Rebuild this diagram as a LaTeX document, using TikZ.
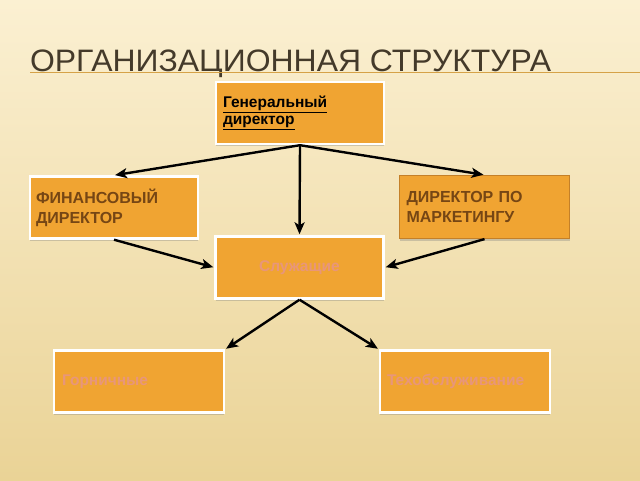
\documentclass[tikz,border=0pt]{standalone}
\usepackage{fontspec}
\setmainfont{Liberation Sans}
\usepackage{xcolor}
\usetikzlibrary{arrows.meta,shadows}

\begin{document}
\begin{tikzpicture}[x=1pt,y=1pt,
  orgbox/.style={draw=white,line width=2.4pt,fill=boxColor,
    minimum width=168,minimum height=62,inner xsep=5pt,
    text width=156,align=left,font=\bfseries,
    drop shadow={shadow xshift=0pt,shadow yshift=-2.5pt,opacity=0.35}},
  headtext/.style={font=\bfseries\fontsize{16}{20}\selectfont,text=headColor},
  faint/.style={font=\bfseries\fontsize{15.5}{18}\selectfont,text=faintColor},
  link/.style={draw=black,line width=2.4pt,
    -{Stealth[length=12pt,width=10pt,inset=3pt]},shorten >=1pt}]
\definecolor{topColor}{RGB}{251,240,210}
\definecolor{bottomColor}{RGB}{234,211,150}
\definecolor{boxColor}{RGB}{240,164,50}
\definecolor{titleColor}{RGB}{68,58,42}
\definecolor{ruleColor}{RGB}{214,162,72}
\definecolor{headColor}{RGB}{118,70,20}
\definecolor{faintColor}{RGB}{232,150,122}
\definecolor{edgeColor}{RGB}{196,128,40}

\path[use as bounding box,shade,top color=topColor,bottom color=bottomColor] (0,0) rectangle (640,480);

\node[text=titleColor,anchor=base west,inner sep=0pt,outer sep=0pt,xscale=1.03,font=\fontsize{31}{36}\selectfont] (title) at ( 30.00,408.50) {ОРГАНИЗАЦИОННАЯ СТРУКТУРА};

\path[draw=ruleColor,line width=1.0pt] ( 30.00,407.00) -- (640.00,407.00);

\node[orgbox,font=\bfseries\fontsize{15.5}{17}\selectfont,inner xsep=7pt,text width=154] (gen) at (300.00,367.00) {\underline{Генеральный}\\ \underline{директор}};

\node[orgbox,headtext] (fin) at (114.00,272.50) {ФИНАНСОВЫЙ\\ ДИРЕКТОР};

\node[orgbox,headtext,draw=edgeColor,line width=1.2pt,minimum width=170,minimum height=63] (mkt) at (484.50,273.00) {ДИРЕКТОР ПО\\ МАРКЕТИНГУ};

\node[orgbox,faint,align=center] (serv) at (299.50,212.50) {Служащие};

\node[orgbox,faint,inner xsep=8pt,text width=154] (maids) at (139.00, 98.50) {Горничные};

\node[orgbox,faint,inner xsep=7pt,text width=156] (tech) at (465.00, 98.50) {Техобслуживание};

\path[link] (gen.south) -- (fin.north);

\path[link] (gen.south) -- (serv.north);

\path[link] (gen.south) -- (mkt.north);

\path[link] (fin.south) -- (serv.west);

\path[link] (mkt.south) -- (serv.east);

\path[link] (serv.south) -- (maids.north east);

\path[link] (serv.south) -- (tech.north west);
\end{tikzpicture}
\end{document}
